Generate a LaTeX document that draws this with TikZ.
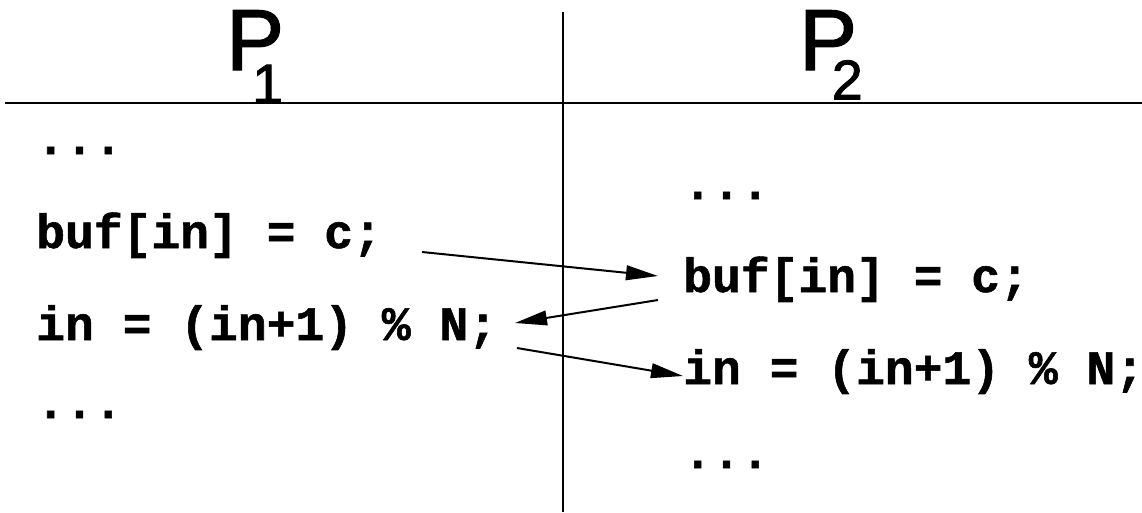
\documentclass[tikz,border=0pt]{standalone}
\usepackage{fontspec}
\setmonofont[BoldFeatures={FakeBold=1.2}]{Liberation Mono}
\newfontfamily\labfont[FakeBold=1.5]{Liberation Sans}
\usetikzlibrary{arrows.meta}
\begin{document}
\begin{tikzpicture}[x=0.75pt,y=-0.75pt,
  code/.style={font=\ttfamily\bfseries\fontsize{36}{40}\selectfont, anchor=base west, inner sep=0pt},
  bigp/.style={font=\labfont\fontsize{65}{70}\selectfont, anchor=base west, inner sep=0pt},
  rule/.style={line width=1.5pt},
  msg/.style={line width=1.5pt, -{Triangle[length=24pt,width=11pt]}}]
\useasboundingbox (0,0) rectangle (1142,512);
% frame lines
\coordinate (hl) at (5,103);
\coordinate (hr) at (1142,103);
\coordinate (vt) at (563,12);
\coordinate (vb) at (563,512);
\draw[rule] (hl) -- (hr);
\draw[rule] (vt) -- (vb);
% headers
\node[bigp] (p1) at (226,70) {P\kern-24pt\raisebox{-25pt}{\fontsize{42}{46}\selectfont 1}};
\node[bigp] (p2) at (799,70) {P\kern-19pt\raisebox{-22pt}{\fontsize{42}{46}\selectfont 2}};
% left column
\node[code] (l1) at (36,154) {...};
\node[code] (l2) at (36,248) {buf[in] = c;};
\node[code] (l3) at (36,340) {in = (in+1) \% N;};
\node[code] (l4) at (36,418) {...};
% right column
\node[code] (r1) at (683,199) {...};
\node[code] (r2) at (683,292) {buf[in] = c;};
\node[code] (r3) at (683,384) {in = (in+1) \% N;};
\node[code] (r4) at (683,468) {...};
% arrows
\coordinate (a1s) at (422,252);
\coordinate (a1e) at (658,276);
\coordinate (a2s) at (658,300);
\coordinate (a2e) at (515,323);
\coordinate (a3s) at (517,348);
\coordinate (a3e) at (683,376);
\draw[msg] (a1s) -- (a1e);
\draw[msg] (a2s) -- (a2e);
\draw[msg] (a3s) -- (a3e);
\end{tikzpicture}
\end{document}
